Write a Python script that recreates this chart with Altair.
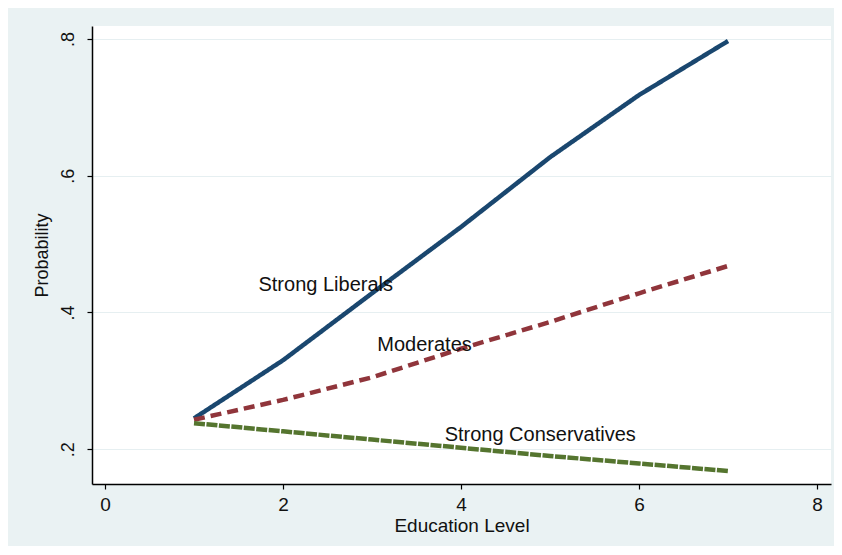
import altair as alt
import pandas as pd

education = [1, 2, 3, 4, 5, 6, 7]
strong_liberals = [0.245, 0.330, 0.428, 0.525, 0.627, 0.718, 0.797]
moderates = [0.243, 0.272, 0.305, 0.347, 0.386, 0.428, 0.468]
strong_conservatives = [0.238, 0.226, 0.214, 0.202, 0.190, 0.179, 0.168]

series_names = ["Strong Liberals", "Moderates", "Strong Conservatives"]
series_colors = ["#1a476f", "#90353b", "#55752f"]

label_text = ["Strong Liberals", "Moderates", "Strong Conservatives"]
label_x = [2.48, 3.59, 4.89]
label_y = [0.44, 0.352, 0.221]

rows = []
for name, vals in zip(series_names, [strong_liberals, moderates, strong_conservatives]):
    for xv, yv in zip(education, vals):
        rows.append({"series": name, "education": xv, "prob": yv})
df = pd.DataFrame(rows)
labels = pd.DataFrame({"text": label_text, "education": label_x, "prob": label_y})

FONT = "Liberation Sans"

xscale = alt.Scale(domain=[-0.146, 8.157], nice=False, zero=False)
yscale = alt.Scale(domain=[0.149, 0.819], nice=False, zero=False)

lines = alt.Chart(df).mark_line(strokeWidth=4.5, strokeCap="butt").encode(
    x=alt.X("education:Q", scale=xscale,
            axis=alt.Axis(title="Education Level", values=[0, 2, 4, 6, 8], format="d",
                          grid=False, tickSize=5, labelPadding=6, titlePadding=2,
                          labelFontSize=19, titleFontSize=19)),
    y=alt.Y("prob:Q", scale=yscale,
            axis=alt.Axis(title="Probability", values=[0.2, 0.4, 0.6, 0.8],
                          labelExpr="replace(format(datum.value, '.1f'), '0.', '.')",
                          grid=True, tickSize=5, labelAngle=270, labelAlign="center",
                          labelBaseline="bottom", labelPadding=10, titlePadding=8,
                          labelFontSize=18, titleFontSize=18)),
    color=alt.Color("series:N", scale=alt.Scale(domain=series_names, range=series_colors), legend=None),
    strokeDash=alt.StrokeDash("series:N",
                              scale=alt.Scale(domain=series_names, range=[[1, 0], [11, 6], [11, 1.5]]),
                              legend=None),
    detail="series:N",
)

text = alt.Chart(labels).mark_text(fontSize=20, font=FONT, color="#111111").encode(
    x=alt.X("education:Q", scale=xscale),
    y=alt.Y("prob:Q", scale=yscale),
    text="text:N",
)

chart = alt.layer(lines, text).properties(
    width=739, height=458,
    autosize=alt.AutoSizeParams(type="none"),
    padding={"left": 84, "top": 18, "right": 3, "bottom": 62},
    background="#eaf2f3",
).configure_view(
    fill="white", stroke=None
).configure_axis(
    domainColor="#000000", domainWidth=1.5, tickColor="#000000", tickWidth=1.2,
    labelFont=FONT, titleFont=FONT,
    labelColor="#111111", titleColor="#111111", titleFontWeight="normal",
    gridColor="#e6eff1", gridWidth=1,
)

chart.save("out.html", embed_options={"renderer": "svg", "actions": False})
